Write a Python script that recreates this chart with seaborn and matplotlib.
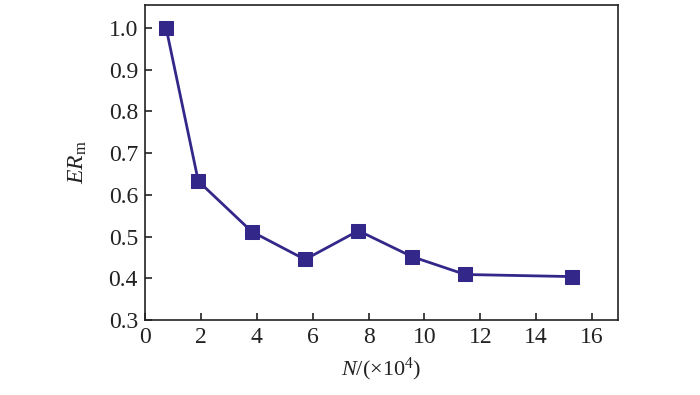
import matplotlib
matplotlib.use("Agg")
import matplotlib.pyplot as plt
import seaborn as sns
import pandas as pd

# Data
n_values = [0.76, 1.91, 3.82, 5.73, 7.64, 9.55, 11.46, 15.28]
er_values = [1.0, 0.633, 0.512, 0.445, 0.514, 0.452, 0.409, 0.404]
x_ticks = [0, 2, 4, 6, 8, 10, 12, 14, 16]
y_ticks = [0.3, 0.4, 0.5, 0.6, 0.7, 0.8, 0.9, 1.0]

sns.set_style("white")
plt.rcParams['font.family'] = ['Liberation Serif', 'DejaVu Serif']
plt.rcParams['mathtext.fontset'] = 'custom'
plt.rcParams['mathtext.rm'] = 'Liberation Serif'
plt.rcParams['mathtext.it'] = 'Liberation Serif:italic'

df = pd.DataFrame({"N": n_values, "ER": er_values})

fig = plt.figure(figsize=(7, 3.95), dpi=100)
ax = fig.add_axes([0.207, 0.19, 0.676, 0.797])
color = "#33288a"
sns.lineplot(data=df, x="N", y="ER", ax=ax, color=color, linewidth=2.0,
             marker="s", markersize=9.5, markeredgecolor=color, markerfacecolor=color)

ax.set_xlim(0, 16.93)
ax.set_ylim(0.3, 1.055)
ax.set_xticks(x_ticks)
ax.set_yticks(y_ticks)
ax.set_xticklabels([str(t) for t in x_ticks])
ax.set_yticklabels([f"{t:.1f}" for t in y_ticks])
ax.tick_params(axis="both", direction="in", length=5, width=1.2, labelsize=17,
               bottom=True, left=True, top=False, right=False, pad=5, colors="#222222")
for s in ax.spines.values():
    s.set_color("#222222")
    s.set_linewidth(1.2)

ax.set_xlabel(r"$N$/(×10$^{4}$)", fontsize=16, color="#222222", labelpad=6)
ax.set_ylabel(r"$ER_{\rm m}$", fontsize=17, color="#222222", labelpad=14)

fig.savefig("out.png", dpi=100)
